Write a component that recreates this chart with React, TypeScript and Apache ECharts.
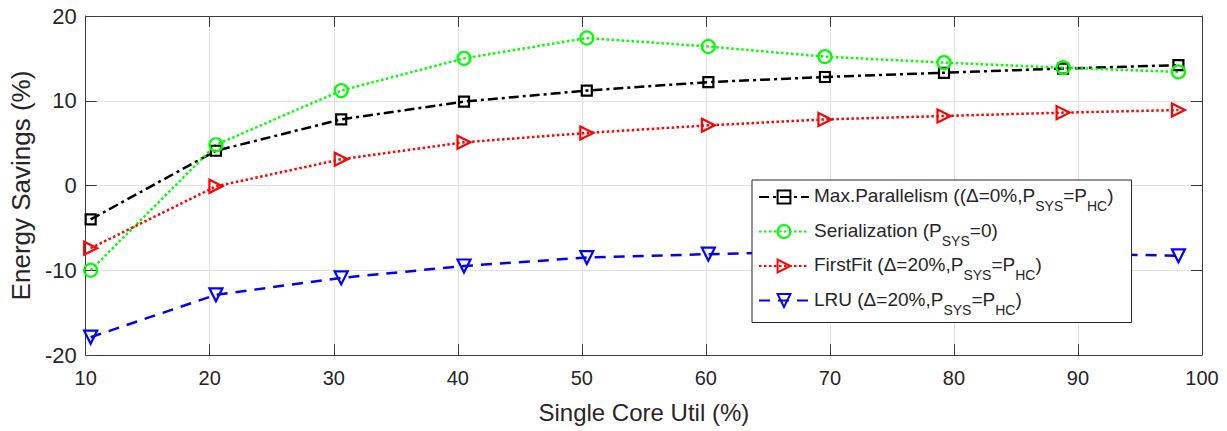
import React, { useEffect, useRef } from "react";
import * as echarts from "echarts";

const utilX = [10.4, 20.5, 30.6, 40.5, 50.4, 60.2, 69.6, 79.2, 88.8, 98.1];
const maxParallelism = [-4.0, 4.1, 7.8, 9.9, 11.2, 12.2, 12.8, 13.3, 13.8, 14.2];
const serialization = [-10.0, 4.8, 11.2, 15.0, 17.4, 16.4, 15.2, 14.5, 13.9, 13.4];
const firstFit = [-7.4, -0.1, 3.1, 5.1, 6.2, 7.1, 7.8, 8.2, 8.6, 8.9];
const lru = [-17.9, -12.9, -10.9, -9.5, -8.5, -8.1, -7.8, -7.9, -8.0, -8.3];

const seriesNames = ["Max.Parallelism", "Serialization", "FirstFit", "LRU"];
const legendLabels: Record<string, string> = {
  "Max.Parallelism": "{m|Max.Parallelism ((Δ=0%,P}{s|SYS}{m|=P}{s|HC}{m|)}",
  Serialization: "{m|Serialization (P}{s|SYS}{m|=0)}",
  FirstFit: "{m|FirstFit (Δ=20%,P}{s|SYS}{m|=P}{s|HC}{m|)}",
  LRU: "{m|LRU (Δ=20%,P}{s|SYS}{m|=P}{s|HC}{m|)}",
};
const xAxisName = "Single Core Util (%)";
const yAxisName = "Energy Savings (%)";

const FONT = "'Liberation Sans', Arial, Helvetica, sans-serif";
const TXT = "#262626";
const AX = "#3c3c3c";
const GRID = "#e2e2e2";

function pts(ys: number[]) {
  return utilX.map((x, i) => [x, ys[i]]);
}

function mkSeries(name: string, ys: number[], color: string, symbol: string, size: number, dash: number[]) {
  return {
    type: "line",
    name,
    data: pts(ys),
    symbol,
    symbolSize: size,
    showAllSymbol: true,
    lineStyle: { color, width: 2.5, type: dash },
    itemStyle: { color: "rgba(255,255,255,0)", borderColor: color, borderWidth: 2.2 },
    emphasis: { disabled: true },
    z: 3,
  };
}

export default function App() {
  const ref = useRef<HTMLDivElement>(null);
  useEffect(() => {
    if (!ref.current) return;
    const chart = echarts.init(ref.current, undefined, { renderer: "svg" });
    const axisCommon = {
      type: "value",
      axisLine: { show: true, onZero: false, lineStyle: { color: AX, width: 1 } },
      axisTick: { show: true, inside: true, length: 11, lineStyle: { color: AX, width: 1 } },
    };
    chart.setOption({
      animation: false,
      backgroundColor: "#ffffff",
      grid: { left: 82, right: 25, top: 16, bottom: 76, containLabel: false },
      xAxis: [
        {
          ...axisCommon,
          position: "bottom",
          min: 10,
          max: 100,
          interval: 10,
          name: xAxisName,
          nameLocation: "middle",
          nameGap: 45,
          nameTextStyle: { color: TXT, fontSize: 24, fontFamily: FONT },
          axisLabel: { color: TXT, fontSize: 20, fontFamily: FONT, margin: 13 },
          splitLine: { show: true, lineStyle: { color: GRID, width: 1 } },
        },
        {
          ...axisCommon,
          position: "top",
          min: 10,
          max: 100,
          interval: 10,
          axisLabel: { show: false },
          splitLine: { show: false },
        },
      ],
      yAxis: [
        {
          ...axisCommon,
          position: "left",
          min: -20,
          max: 20,
          interval: 10,
          name: yAxisName,
          nameLocation: "middle",
          nameGap: 47,
          nameTextStyle: { color: TXT, fontSize: 26, fontFamily: FONT },
          axisLabel: { color: TXT, fontSize: 22, fontFamily: FONT, margin: 9 },
          splitLine: { show: true, lineStyle: { color: GRID, width: 1 } },
        },
        {
          ...axisCommon,
          position: "right",
          min: -20,
          max: 20,
          interval: 10,
          axisLabel: { show: false },
          splitLine: { show: false },
        },
      ],
      legend: {
        data: seriesNames,
        orient: "vertical",
        left: 752,
        top: 180,
        padding: [6, 18, 6, 6],
        itemWidth: 50,
        itemHeight: 16,
        itemGap: 7.5,
        backgroundColor: "#ffffff",
        borderColor: "#262626",
        borderWidth: 1,
        borderRadius: 0,
        selectedMode: false,
        z: 10,
        formatter: (n: string) => legendLabels[n] || n,
        textStyle: {
          color: TXT,
          fontSize: 19,
          fontFamily: FONT,
          rich: {
            m: { fontSize: 19, lineHeight: 22, verticalAlign: "top", fontFamily: FONT, color: TXT },
            s: {
              fontSize: 14,
              lineHeight: 14,
              verticalAlign: "top",
              padding: [13, 0, 0, 0],
              fontFamily: FONT,
              color: TXT,
            },
          },
        },
      },
      series: [
        mkSeries(seriesNames[0], maxParallelism, "#000000", "rect", 10, [10, 4, 3, 4]),
        mkSeries(seriesNames[1], serialization, "#00ff00", "circle", 13, [2.5, 2.5]),
        mkSeries(seriesNames[2], firstFit, "#ff0000", "path://M0,0L10,5L0,10Z", 13, [2.5, 2.5]),
        mkSeries(seriesNames[3], lru, "#0000ff", "path://M0,0L10,0L5,10Z", 13, [11, 8]),
      ],
    });
    return () => chart.dispose();
  }, []);
  return (
    <div
      ref={ref}
      style={{ position: "fixed", left: 0, top: 0, width: 1227, height: 431, background: "#fff" }}
    />
  );
}
